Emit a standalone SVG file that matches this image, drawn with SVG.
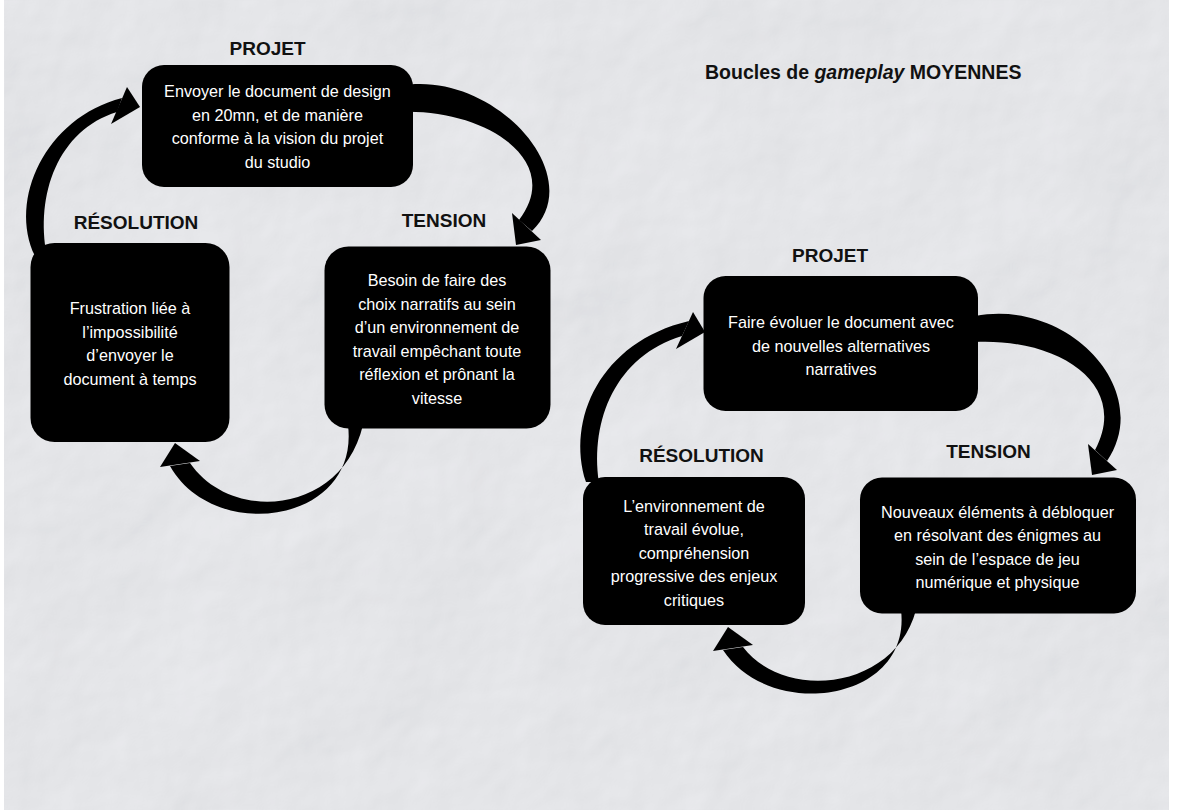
<svg xmlns="http://www.w3.org/2000/svg" width="1181" height="810" viewBox="0 0 1181 810">
<defs>
<filter id="paper" x="0" y="0" width="100%" height="100%">
<feTurbulence type="fractalNoise" baseFrequency="0.0045" numOctaves="5" seed="11" result="n"/>
<feDiffuseLighting in="n" lighting-color="#f1f2f5" surfaceScale="4.5" result="l">
<feDistantLight azimuth="225" elevation="62"/>
</feDiffuseLighting>
</filter>
<style>
.box{fill:#000}
.lbl{font-family:"Liberation Sans",Arial,sans-serif;font-weight:bold;font-size:19px;fill:#111;text-anchor:middle}
.txt{font-family:"Liberation Sans",Arial,sans-serif;font-size:16.2px;fill:#fff;text-anchor:middle}
.arr{fill:#000}
</style>
</defs>
<rect x="0" y="0" width="1181" height="810" fill="#ffffff"/>
<rect x="4" y="0" width="1165" height="810" fill="#e2e3e6"/>
<rect x="4" y="0" width="1165" height="810" filter="url(#paper)"/>

<text x="705" y="79" font-family="Liberation Sans, Arial, sans-serif" font-weight="bold" font-size="19.5" fill="#111">Boucles de <tspan font-style="italic">gameplay</tspan> MOYENNES</text>

<g id="connectors">
<!-- left loop -->
<path class="arr" d="M35 256 C8 200 45 118 122 98 L117 112 C58 130 35 195 47 256 Z"/>
<path class="arr" d="M127 87 L140 107 L111 124 Z"/>
<path class="arr" d="M399 86 C492 68 590 175 532 231 L519 220 C565 160 484 108 399 112 Z"/>
<path class="arr" d="M512 213 L541 240 L516 245 Z"/>
<path class="arr" d="M348 425 C360 524 214 544 170 466 L190 463 C232 524 342 514 363 425 Z"/>
<path class="arr" d="M175 443 L160 467 L200 461 Z"/>
<!-- right loop -->
<path class="arr" d="M586 482 C566 420 600 342 689 321 L682 336 C616 356 590 420 599 482 Z"/>
<path class="arr" d="M693 312 L705 332 L676 349 Z"/>
<path class="arr" d="M975 316 C1068 298 1155 390 1107 461 L1095 450 C1130 385 1060 338 975 342 Z"/>
<path class="arr" d="M1088 444 L1117 470 L1092 475 Z"/>
<path class="arr" d="M901 610 C912 702 770 722 723 650 L743 647 C785 702 895 690 916 610 Z"/>
<path class="arr" d="M728 627 L713 651 L753 645 Z"/>
</g>

<g id="left-projet">
<text class="lbl" x="267.5" y="55">PROJET</text>
<rect class="box" x="142" y="65" width="271" height="122" rx="22"/>
<text class="txt" x="277.5" y="97">Envoyer le document de design</text>
<text class="txt" x="277.5" y="120.5">en 20mn, et de manière</text>
<text class="txt" x="277.5" y="144">conforme à la vision du projet</text>
<text class="txt" x="277.5" y="167.5">du studio</text>
</g>

<g id="left-resolution">
<text class="lbl" x="136" y="229">RÉSOLUTION</text>
<rect class="box" x="30.5" y="243" width="199" height="199" rx="24"/>
<text class="txt" x="130" y="314">Frustration liée à</text>
<text class="txt" x="130" y="337.5">l’impossibilité</text>
<text class="txt" x="130" y="361">d’envoyer le</text>
<text class="txt" x="130" y="384.5">document à temps</text>
</g>

<g id="left-tension">
<text class="lbl" x="444" y="226.5">TENSION</text>
<rect class="box" x="324.5" y="246.5" width="226" height="182" rx="24"/>
<text class="txt" x="437" y="286">Besoin de faire des</text>
<text class="txt" x="437" y="309.5">choix narratifs au sein</text>
<text class="txt" x="437" y="333">d’un environnement de</text>
<text class="txt" x="437" y="356.5">travail empêchant toute</text>
<text class="txt" x="437" y="380">réflexion et prônant la</text>
<text class="txt" x="437" y="403.5">vitesse</text>
</g>

<g id="right-projet">
<text class="lbl" x="830" y="262">PROJET</text>
<rect class="box" x="703.5" y="276" width="274.5" height="135" rx="22"/>
<text class="txt" x="841" y="328">Faire évoluer le document avec</text>
<text class="txt" x="841" y="351.5">de nouvelles alternatives</text>
<text class="txt" x="841" y="375">narratives</text>
</g>

<g id="right-resolution">
<text class="lbl" x="701.5" y="461.5">RÉSOLUTION</text>
<rect class="box" x="583" y="477" width="222" height="148" rx="22"/>
<text class="txt" x="694" y="511.5">L’environnement de</text>
<text class="txt" x="694" y="535">travail évolue,</text>
<text class="txt" x="694" y="558.5">compréhension</text>
<text class="txt" x="694" y="582">progressive des enjeux</text>
<text class="txt" x="694" y="605.5">critiques</text>
</g>

<g id="right-tension">
<text class="lbl" x="988.5" y="458">TENSION</text>
<rect class="box" x="860" y="477.5" width="276" height="136" rx="22"/>
<text class="txt" x="997.5" y="517.5">Nouveaux éléments à débloquer</text>
<text class="txt" x="997.5" y="541">en résolvant des énigmes au</text>
<text class="txt" x="997.5" y="564.5">sein de l’espace de jeu</text>
<text class="txt" x="997.5" y="588">numérique et physique</text>
</g>
</svg>
